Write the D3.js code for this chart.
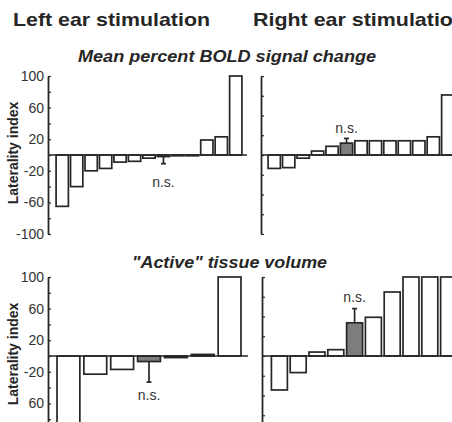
<!DOCTYPE html>
<html>
<head>
<meta charset="utf-8">
<script src="https://cdn.jsdelivr.net/npm/d3@7"></script>
<style>
  body { margin: 0; background: #fff; }
  svg { display: block; font-family: Arial, "Liberation Sans", sans-serif; }
</style>
</head>
<body>
<svg id="chart" width="452" height="422"></svg>
<script>
// laterality index per subject
const topLeftValues = [-65, -40, -20, -17, -9, -8, -4, -2, -1, -1, 19, 23, 100];
const topRightValues = [-17, -16, -4, 5, 11, 15, 18, 18, 18, 18, 18, 23, 76];
const bottomLeftValues = [-100, -23, -17, -7, -2, 2, 100];
const bottomRightValues = [-43, -21, 5, 8, 42, 49, 81, 100, 100, 100];

// group mean bar (gray) and its error bar end
const topLeftMean = {index: 7, err: -11};
const topRightMean = {index: 5, err: 21};
const bottomLeftMean = {index: 3, err: -33};
const bottomRightMean = {index: 4, err: 60};

const labelTicks = [100, 60, 20, -20, -60];
const topTickLabels = ["100", "60", "20", "-20", "-60", "-100"];
const bottomTickLabels = ["100", "60", "20", "-20", "60"];
const topLabelTicks = [100, 60, 20, -20, -60, -100];

const columnTitles = ["Left ear stimulation", "Right ear stimulation"];
const rowTitles = ["Mean percent BOLD signal change", "\"Active\" tissue volume"];

const ink = "#262626";
const svg = d3.select("#chart");

// column titles
svg.append("text").attr("x", 13).attr("y", 26)
  .attr("font-size", 19).attr("font-weight", "bold").attr("fill", ink)
  .attr("textLength", 197).attr("lengthAdjust", "spacingAndGlyphs")
  .text(columnTitles[0]);
svg.append("text").attr("x", 253).attr("y", 26)
  .attr("font-size", 19).attr("font-weight", "bold").attr("fill", ink)
  .attr("textLength", 213).attr("lengthAdjust", "spacingAndGlyphs")
  .text(columnTitles[1]);

// row titles
svg.append("text").attr("x", 78).attr("y", 62)
  .attr("font-size", 16).attr("font-weight", "bold").attr("font-style", "italic").attr("fill", ink)
  .attr("textLength", 298).attr("lengthAdjust", "spacingAndGlyphs")
  .text(rowTitles[0]);
svg.append("text").attr("x", 132).attr("y", 268)
  .attr("font-size", 16).attr("font-weight", "bold").attr("font-style", "italic").attr("fill", ink)
  .attr("textLength", 195).attr("lengthAdjust", "spacingAndGlyphs")
  .text(rowTitles[1]);

const panels = [
  {values: topLeftValues, mean: topLeftMean, axisX: 48, range: [55, 243], yRange: [234, 76], baseEnd: 247, side: "left", labels: topTickLabels, ticksAt: topLabelTicks, nsGap: 18},
  {values: topRightValues, mean: topRightMean, axisX: 261, range: [267, 455], yRange: [234, 76], baseEnd: 460, side: "right", nsGap: 10},
  {values: bottomLeftValues, mean: bottomLeftMean, axisX: 48, range: [55, 243], yRange: [435, 277], baseEnd: 248, side: "left", labels: bottomTickLabels, ticksAt: labelTicks, nsGap: 13},
  {values: bottomRightValues, mean: bottomRightMean, axisX: 262, range: [270, 458], yRange: [435, 277], baseEnd: 460, side: "right", nsGap: 12}
];

panels.forEach(p => {
  const x = d3.scaleBand()
    .domain(d3.range(p.values.length))
    .range(p.range)
    .paddingInner(0.15)
    .paddingOuter(0.075);
  const y = d3.scaleLinear().domain([-100, 100]).range(p.yRange);

  const g = svg.append("g");

  // bars
  g.selectAll("rect")
    .data(p.values)
    .join("rect")
    .attr("x", (d, i) => x(i))
    .attr("y", d => y(Math.max(0, d)))
    .attr("width", x.bandwidth())
    .attr("height", d => Math.abs(y(d) - y(0)))
    .attr("fill", (d, i) => i === p.mean.index ? "#7d7d7d" : "#fff")
    .attr("stroke", ink)
    .attr("stroke-width", 1.7);

  // error bar on the group mean
  const cx = x(p.mean.index) + x.bandwidth() / 2;
  const v = p.values[p.mean.index];
  g.append("line")
    .attr("x1", cx).attr("x2", cx)
    .attr("y1", y(v)).attr("y2", y(p.mean.err))
    .attr("stroke", ink).attr("stroke-width", 1.7);
  g.append("line")
    .attr("x1", cx - 2.5).attr("x2", cx + 2.5)
    .attr("y1", y(p.mean.err)).attr("y2", y(p.mean.err))
    .attr("stroke", ink).attr("stroke-width", 1.7);

  const up = p.mean.err > 0;
  g.append("text")
    .attr("x", cx)
    .attr("y", y(p.mean.err) + (up ? -p.nsGap : p.nsGap))
    .attr("dy", "0.35em")
    .attr("text-anchor", "middle")
    .attr("font-size", 14)
    .attr("fill", "#333")
    .text("n.s.");

  // zero line
  g.append("line")
    .attr("x1", p.axisX).attr("x2", p.baseEnd)
    .attr("y1", y(0)).attr("y2", y(0))
    .attr("stroke", ink).attr("stroke-width", 1.7);

  // y axis, ticks point inward
  let axis;
  if (p.side === "left") {
    axis = d3.axisLeft(y)
      .tickValues(d3.range(-100, 101, 20))
      .tickFormat(d => {
        const k = p.ticksAt.indexOf(d);
        return k >= 0 ? p.labels[k] : "";
      });
  } else {
    axis = d3.axisLeft(y)
      .tickValues(d3.range(-100, 101, 25))
      .tickFormat("");
  }
  axis.tickSizeInner(-3).tickSizeOuter(0).tickPadding(4);

  const ax = g.append("g")
    .attr("transform", `translate(${p.axisX},0)`)
    .call(axis);
  ax.select(".domain").attr("stroke", ink).attr("stroke-width", 1.8);
  ax.selectAll(".tick line").attr("stroke", ink).attr("stroke-width", 1.2);
  ax.selectAll(".tick text")
    .attr("font-size", 14)
    .attr("font-family", "Arial, 'Liberation Sans', sans-serif")
    .attr("fill", "#333");

  if (p.side === "left") {
    svg.append("text")
      .attr("transform", `translate(13,${y(0) - 2}) rotate(-90)`)
      .attr("text-anchor", "middle")
      .attr("dy", "0.35em")
      .attr("font-size", 14)
      .attr("font-weight", "bold")
      .attr("fill", ink)
      .text("Laterality index");
  }
});
</script>
</body>
</html>
